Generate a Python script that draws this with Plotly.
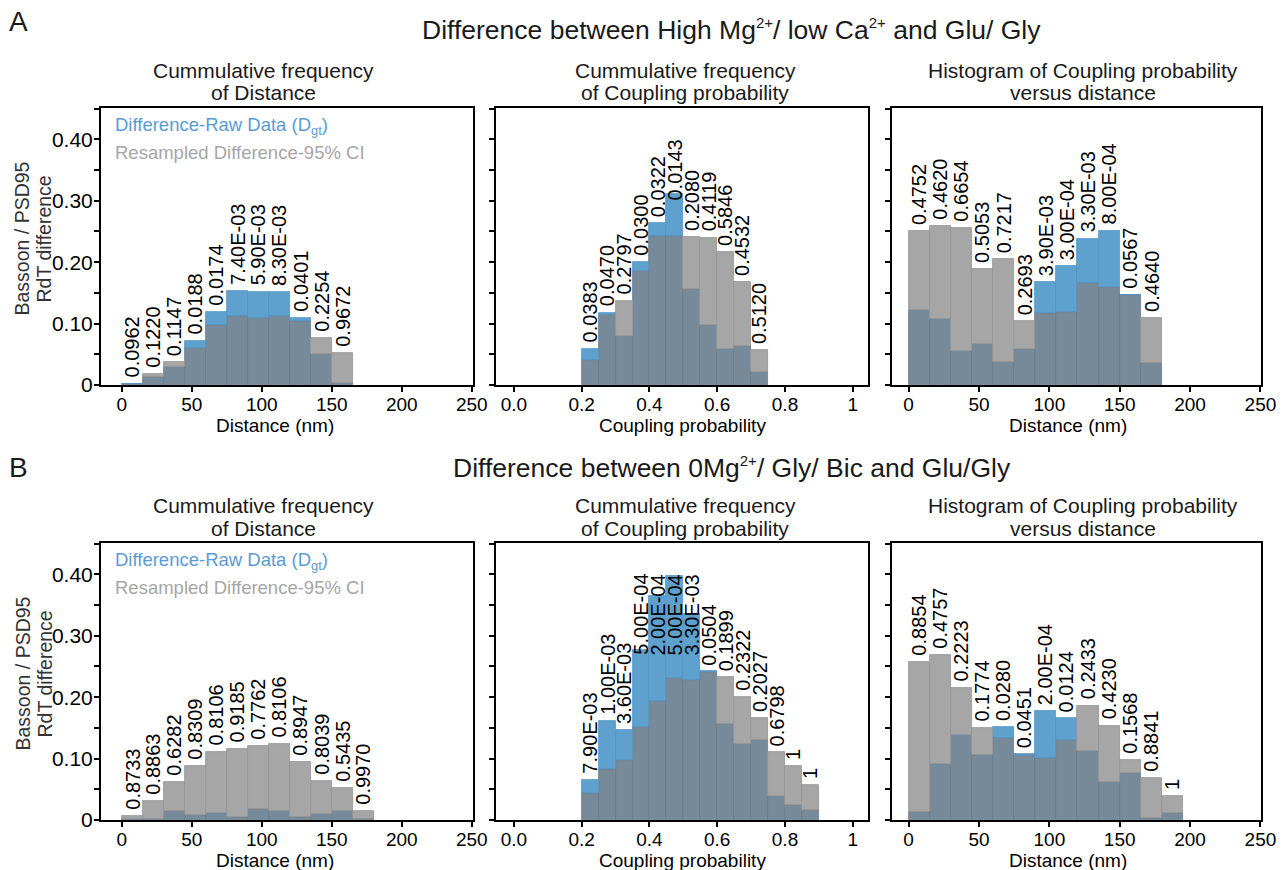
import plotly.graph_objects as go

W, H = 1284, 870
FONT = "Liberation Sans, Arial, Helvetica, sans-serif"

# ---------------- data ----------------
# bin lower edges (categories)
a1_bins = [0, 15, 30, 45, 60, 75, 90, 105, 120, 135, 150]
a1_raw = [0.002, 0.0136, 0.030, 0.072, 0.119, 0.153, 0.152, 0.151, 0.109, 0.0505, 0.003]
a1_ci = [0.001, 0.018, 0.0375, 0.061, 0.098, 0.113, 0.109, 0.113, 0.105, 0.0765, 0.052]
a1_p = ["0.0962", "0.1220", "0.1147", "0.0188", "0.0174", "7.40E-03", "5.90E-03",
        "8.30E-03", "0.0401", "0.2254", "0.9672"]

a2_bins = [0.20, 0.25, 0.30, 0.35, 0.40, 0.45, 0.50, 0.55, 0.60, 0.65, 0.70]
a2_raw = [0.059, 0.118, 0.079, 0.200, 0.264, 0.311, 0.156, 0.098, 0.059, 0.0635, 0.0217]
a2_ci = [0.041, 0.114, 0.137, 0.185, 0.243, 0.242, 0.2416, 0.240, 0.217, 0.168, 0.057]
a2_p = ["0.0383", "0.0470", "0.2797", "0.0300", "0.0322", "0.0143", "0.2080",
        "0.4119", "0.5846", "0.4532", "0.5120"]

a3_bins = [0, 15, 30, 45, 60, 75, 90, 105, 120, 135, 150, 165]
a3_raw = [0.122, 0.1075, 0.0554, 0.0668, 0.0375, 0.0586, 0.168, 0.194, 0.238, 0.251, 0.1466, 0.0353]
a3_ci = [0.250, 0.259, 0.256, 0.189, 0.205, 0.104, 0.118, 0.119, 0.166, 0.160, 0.146, 0.109]
a3_p = ["0.4752", "0.4620", "0.6654", "0.5053", "0.7217", "0.2693", "3.90E-03",
        "3.00E-04", "3.30E-03", "8.00E-04", "0.0567", "0.4640"]

b1_bins = [0, 15, 30, 45, 60, 75, 90, 105, 120, 135, 150, 165]
b1_raw = [0.001, 0.001, 0.0147, 0.008, 0.0114, 0.0049, 0.0179, 0.0147, 0.0049, 0.0098, 0.0147, 0.001]
b1_ci = [0.0065, 0.031, 0.062, 0.088, 0.111, 0.116, 0.1205, 0.124, 0.0945, 0.0635, 0.052, 0.0147]
b1_p = ["0.8733", "0.8863", "0.6282", "0.8309", "0.8106", "0.9185", "0.7762",
        "0.8106", "0.8947", "0.8039", "0.5435", "0.9970"]

b2_bins = [0.20, 0.25, 0.30, 0.35, 0.40, 0.45, 0.50, 0.55, 0.60, 0.65, 0.70, 0.75, 0.80, 0.85]
b2_raw = [0.0652, 0.161, 0.146, 0.277, 0.365, 0.397, 0.336, 0.242, 0.1565, 0.124, 0.130, 0.039, 0.0245, 0.0163]
b2_ci = [0.0435, 0.083, 0.098, 0.152, 0.193, 0.231, 0.228, 0.241, 0.2326, 0.201, 0.166, 0.110, 0.088, 0.057]
b2_p = ["7.90E-03", "1.00E-03", "3.60E-03", "5.00E-04", "2.00E-04", "5.00E-04",
        "3.30E-03", "0.0504", "0.1899", "0.2322", "0.2027", "0.6798", "1", "1"]

b3_bins = [0, 15, 30, 45, 60, 75, 90, 105, 120, 135, 150, 165, 180]
b3_raw = [0.013, 0.0913, 0.1386, 0.1059, 0.1515, 0.1075, 0.1775, 0.1661, 0.1125, 0.0625, 0.0772, 0.0038, 0.012]
b3_ci = [0.2573, 0.2687, 0.2155, 0.1504, 0.1336, 0.1059, 0.1015, 0.1303, 0.1862, 0.1536, 0.0978, 0.0685, 0.0391]
b3_p = ["0.8854", "0.4757", "0.2223", "0.1774", "0.0280", "0.0451", "2.00E-04",
        "0.0124", "0.2433", "0.4230", "0.1568", "0.8841", "1"]

dist_ticks = [0, 50, 100, 150, 200, 250]
dist_ticktext = ["0", "50", "100", "150", "200", "250"]
prob_ticks = [0.0, 0.2, 0.4, 0.6, 0.8, 1.0]
prob_ticktext = ["0.0", "0.2", "0.4", "0.6", "0.8", "1"]
y_ticks = [0, 0.10, 0.20, 0.30, 0.40]
y_ticktext = ["0", "0.10", "0.20", "0.30", "0.40"]
y_minor_step = 0.05

SUP = '<sup><span style="font-size:15px">2+</span></sup>'
row_titles = ["Difference between High Mg" + SUP + "/ low Ca" + SUP + " and Glu/ Gly",
              "Difference between 0Mg" + SUP + "/ Gly/ Bic and Glu/Gly"]
row_letters = ["A", "B"]
col_titles = [("Cummulative frequency", "of Distance"),
              ("Cummulative frequency", "of Coupling probability"),
              ("Histogram of Coupling probability", "versus distance")]
x_titles = ["Distance (nm)", "Coupling probability", "Distance (nm)"]

# ---------------- styling / layout ----------------
DARK = "#768a99"
BLUE = "#5fa1ce"
GREY = "#a6a6a6"
LEG_BLUE = "#5b9bd5"
LEG_GREY = "#a6a6a6"

YMAX = 0.451
col_px = [(101, 473), (496, 868), (892, 1261)]
row_px = [(108, 385), (543, 820)]
x_ranges = [[-14.8, 250.9], [-0.053, 1.045], [-11.8, 250.4]]
col_title_x = [263, 685, 1083]
x_title_x = [275, 682, 1068]

panels = [
    (a1_bins, a1_raw, a1_ci, a1_p), (a2_bins, a2_raw, a2_ci, a2_p), (a3_bins, a3_raw, a3_ci, a3_p),
    (b1_bins, b1_raw, b1_ci, b1_p), (b2_bins, b2_raw, b2_ci, b2_p), (b3_bins, b3_raw, b3_ci, b3_p),
]

CW = {"0": .556, "1": .556, "2": .556, "3": .556, "4": .556, "5": .556, "6": .556,
      "7": .556, "8": .556, "9": .556, ".": .278, "E": .667, "-": .333}


def text_px(s, size):
    return sum(CW.get(c, .556) for c in s) * size


def fx(p):
    return p / W


def fy(p):
    return 1 - p / H


fig = go.Figure()
annotations = []
layout = {}
PFONT = 20
for i, (bins, raw, ci, pv) in enumerate(panels):
    r, c = divmod(i, 3)
    n = i + 1
    xa = "x" if n == 1 else f"x{n}"
    ya = "y" if n == 1 else f"y{n}"
    w = bins[1] - bins[0]
    centers = [b + w / 2 for b in bins]
    lo = [min(a, b) for a, b in zip(raw, ci)]
    up_blue = [(a - b) if a - b > 1e-9 else None for a, b in zip(raw, ci)]
    up_grey = [(b - a) if b - a > 1e-9 else None for a, b in zip(raw, ci)]
    common = dict(xaxis=xa, yaxis=ya, width=w, showlegend=False, hoverinfo="skip")
    fig.add_trace(go.Bar(x=centers, y=lo, base=[0] * len(lo),
                         marker=dict(color=DARK, line=dict(color="#687b89", width=0.8)), **common))
    fig.add_trace(go.Bar(x=centers, y=up_blue, base=ci,
                         marker=dict(color=BLUE, line=dict(color="#5293c2", width=0.8)), **common))
    fig.add_trace(go.Bar(x=centers, y=up_grey, base=raw,
                         marker=dict(color=GREY, line=dict(color="#939393", width=0.8)), **common))

    x0, x1 = col_px[c]
    y0, y1 = row_px[r]
    ppu = (y1 - y0) / YMAX  # pixels per unit
    is_dist = c != 1
    layout["xaxis" if n == 1 else f"xaxis{n}"] = dict(
        domain=[fx(x0), fx(x1)], range=x_ranges[c], anchor=ya, automargin=False,
        tickvals=dist_ticks if is_dist else prob_ticks,
        ticktext=dist_ticktext if is_dist else prob_ticktext,
        ticks="outside", ticklen=5, tickwidth=1.5, tickcolor="black",
        ticklabelstandoff=-4,
        showline=True, linewidth=2, linecolor="black", mirror=True,
        showgrid=False, zeroline=False,
        tickfont=dict(size=19, color="black", family=FONT))
    layout["yaxis" if n == 1 else f"yaxis{n}"] = dict(
        domain=[fy(y1), fy(y0)], range=[0, YMAX], anchor=xa, automargin=False,
        tickvals=y_ticks, ticktext=y_ticktext, showticklabels=(c == 0),
        ticks="outside", ticklen=5, tickwidth=1.5, tickcolor="black",
        ticklabelstandoff=-3,
        minor=dict(dtick=y_minor_step, tick0=0, ticks="outside", ticklen=5,
                   tickwidth=1.5, tickcolor="black", showgrid=False),
        showline=True, linewidth=2, linecolor="black", mirror=True,
        showgrid=False, zeroline=False,
        tickfont=dict(size=21, color="black", family=FONT))

    # p-value labels, lowered where they would run into the top of the frame
    for cx, a, b, s in zip(centers, raw, ci, pv):
        bottom = max(a, b) + 4 / ppu
        length = (text_px(s, PFONT) + 6) / ppu
        limit = YMAX - 27 / ppu
        if bottom + length > limit:
            bottom = limit - length
        annotations.append(dict(x=cx, y=bottom, xref=xa, yref=ya, text=s, textangle=-90,
                                xanchor="center", yanchor="bottom", showarrow=False,
                                font=dict(size=PFONT, color="black", family=FONT)))

    # column titles
    ct1, ct2 = col_titles[c]
    annotations.append(dict(x=fx(col_title_x[c]), y=fy(y0 - 38), xref="paper", yref="paper",
                            text=ct1, showarrow=False, xanchor="center", yanchor="middle",
                            font=dict(size=21, color="#1a1a1a", family=FONT)))
    annotations.append(dict(x=fx(col_title_x[c]), y=fy(y0 - 15), xref="paper", yref="paper",
                            text=ct2, showarrow=False, xanchor="center", yanchor="middle",
                            font=dict(size=21, color="#1a1a1a", family=FONT)))
    # x-axis title
    annotations.append(dict(x=fx(x_title_x[c]), y=fy(y1 + 40), xref="paper", yref="paper",
                            text=x_titles[c], showarrow=False, xanchor="center", yanchor="middle",
                            font=dict(size=19, color="black", family=FONT)))

for r in range(2):
    y0, y1 = row_px[r]
    title_y = [30, 467][r]
    annotations.append(dict(x=fx(732), y=fy(title_y), xref="paper", yref="paper",
                            text=row_titles[r], showarrow=False, xanchor="center", yanchor="middle",
                            font=dict(size=26.5, color="#1a1a1a", family=FONT)))
    annotations.append(dict(x=fx(18), y=fy([21, 467][r]), xref="paper", yref="paper",
                            text=row_letters[r], showarrow=False, xanchor="center", yanchor="middle",
                            font=dict(size=28, color="#1a1a1a", family=FONT)))
    ymid = (y0 + y1) / 2 - 8
    annotations.append(dict(x=fx(22), y=fy(ymid), xref="paper", yref="paper",
                            text="Bassoon / PSD95", textangle=-90, showarrow=False,
                            xanchor="center", yanchor="middle",
                            font=dict(size=19.5, color="#333333", family=FONT)))
    annotations.append(dict(x=fx(44), y=fy(ymid), xref="paper", yref="paper",
                            text="RdT difference", textangle=-90, showarrow=False,
                            xanchor="center", yanchor="middle",
                            font=dict(size=19.5, color="#333333", family=FONT)))
    # legend text inside first panel
    annotations.append(dict(x=fx(113), y=fy(y0 + 18), xref="paper", yref="paper",
                            text="Difference-Raw Data (D<sub>gt</sub>)", showarrow=False,
                            xanchor="left", yanchor="middle",
                            font=dict(size=18.5, color=LEG_BLUE, family=FONT)))
    annotations.append(dict(x=fx(113), y=fy(y0 + 44), xref="paper", yref="paper",
                            text="Resampled Difference-95% CI", showarrow=False,
                            xanchor="left", yanchor="middle",
                            font=dict(size=18.5, color=LEG_GREY, family=FONT)))

fig.update_layout(
    width=W, height=H, margin=dict(l=0, r=0, t=0, b=0, autoexpand=False),
    paper_bgcolor="white", plot_bgcolor="white",
    barmode="overlay", bargap=0, showlegend=False,
    font=dict(family=FONT, color="black"),
    annotations=annotations,
    **layout,
)

fig.write_html("out.html")
